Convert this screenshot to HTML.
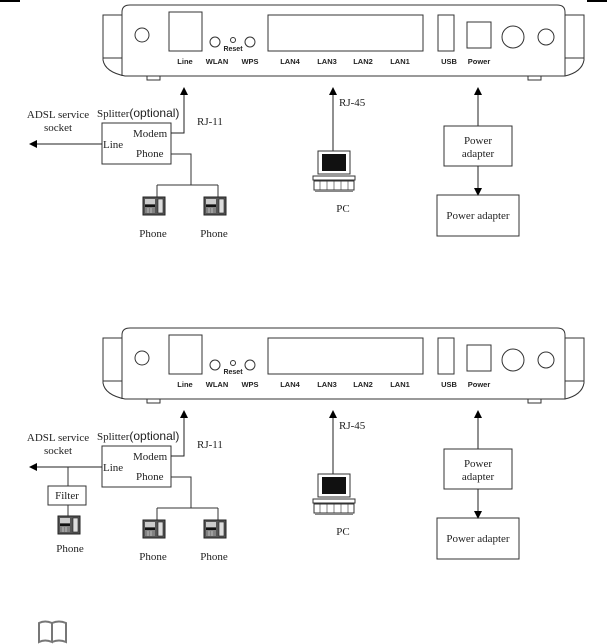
<!DOCTYPE html>
<html><head><meta charset="utf-8"><style>
html,body{margin:0;padding:0;background:#fff;}
svg{display:block;}
.s{font-family:"Liberation Serif",serif;font-size:11px;fill:#222;}
.b{font-family:"Liberation Sans",sans-serif;font-size:7.5px;font-weight:bold;fill:#222;}
.o{font-family:"Liberation Sans",sans-serif;font-size:12px;fill:#222;}
</style></head><body>
<svg width="607" height="644" viewBox="0 0 607 644" xmlns="http://www.w3.org/2000/svg">
<defs>
<marker id="ar" markerWidth="8" markerHeight="8" refX="7" refY="4" orient="auto" markerUnits="userSpaceOnUse"><path d="M0,0 L8,4 L0,8 z" fill="#000"/></marker>
<g id="ph">
<rect x="0" y="0" width="22" height="18" fill="#555" stroke="#222"/>
<rect x="15" y="2" width="5" height="14" fill="#ddd" stroke="#222" stroke-width="0.6"/>
<rect x="2" y="2" width="10" height="5" fill="#ccc"/>
<rect x="2" y="8" width="10" height="2" fill="#111"/>
<path d="M2,11h10M2,13h10M2,15h10M5,11v5M8,11v5" stroke="#ccc" stroke-width="0.8"/>
</g>
<g id="router">
<path d="M122,76 L122,12 Q122,5 130,5 L557,5 Q565,5 565,12 L565,76" fill="none" stroke="#333" stroke-width="1"/>
<path d="M103,15 L122,15 L122,58 L103,58 z" fill="none" stroke="#333"/>
<path d="M103,15 L103,60 Q105,72 125,76 L565,76 Q582,72 584,60 L584,15 L565,15" fill="none" stroke="#333"/>
<path d="M565,58 L584,58" stroke="#333"/>
<rect x="147" y="76" width="13" height="4" fill="none" stroke="#333"/>
<rect x="528" y="76" width="13" height="4" fill="none" stroke="#333"/>
<circle cx="142" cy="35" r="7" fill="none" stroke="#333"/>
<rect x="169" y="12" width="33" height="39" fill="none" stroke="#333"/>
<circle cx="215" cy="42" r="5" fill="none" stroke="#333"/>
<circle cx="233" cy="40" r="2.5" fill="none" stroke="#333"/>
<circle cx="250" cy="42" r="5" fill="none" stroke="#333"/>
<text class="b" x="233" y="51" text-anchor="middle" style="font-size:7px">Reset</text>
<rect x="268" y="15" width="155" height="36" fill="none" stroke="#333"/>
<rect x="438" y="15" width="16" height="36" fill="none" stroke="#333"/>
<rect x="467" y="22" width="24" height="26" fill="none" stroke="#333"/>
<circle cx="513" cy="37" r="11" fill="none" stroke="#333"/>
<circle cx="546" cy="37" r="8" fill="none" stroke="#333"/>
<text class="b" x="185" y="64" text-anchor="middle">Line</text>
<text class="b" x="217" y="64" text-anchor="middle">WLAN</text>
<text class="b" x="250" y="64" text-anchor="middle">WPS</text>
<text class="b" x="290" y="64" text-anchor="middle">LAN4</text>
<text class="b" x="327" y="64" text-anchor="middle">LAN3</text>
<text class="b" x="363" y="64" text-anchor="middle">LAN2</text>
<text class="b" x="400" y="64" text-anchor="middle">LAN1</text>
<text class="b" x="449" y="64" text-anchor="middle">USB</text>
<text class="b" x="479" y="64" text-anchor="middle">Power</text>
</g>
<g id="common">
<text class="s" x="58" y="118" text-anchor="middle">ADSL service</text>
<text class="s" x="58" y="131" text-anchor="middle">socket</text>
<text class="s" x="97" y="117">Splitter<tspan class="o" style="font-family:'Liberation Sans',sans-serif;font-size:12px">(optional)</tspan></text>
<rect x="102" y="123" width="69" height="41" fill="none" stroke="#333"/>
<text class="s" x="103" y="148">Line</text>
<text class="s" x="133" y="137">Modem</text>
<text class="s" x="136" y="157">Phone</text>
<path d="M102,144 L30,144" stroke="#222" marker-end="url(#ar)"/>
<path d="M171,133 L184,133 L184,88" fill="none" stroke="#222" marker-end="url(#ar)"/>
<text class="s" x="197" y="125">RJ-11</text>
<path d="M171,154 L191,154 L191,185 M157,185 L218,185 M157,185 L157,197 M218,185 L218,197" fill="none" stroke="#333"/>
<use href="#ph" x="143" y="197"/>
<use href="#ph" x="204" y="197"/>
<text class="s" x="153" y="237" text-anchor="middle">Phone</text>
<text class="s" x="214" y="237" text-anchor="middle">Phone</text>
<path d="M333,151 L333,88" stroke="#222" marker-end="url(#ar)"/>
<text class="s" x="339" y="106">RJ-45</text>
<rect x="318" y="151" width="32" height="23" fill="#fff" stroke="#333"/>
<rect x="322" y="154" width="24" height="17" fill="#111"/>
<rect x="313" y="176" width="42" height="4" fill="#fff" stroke="#333"/>
<rect x="314" y="181" width="40" height="9" fill="#fff" stroke="#333"/>
<path d="M320,181v9M327,181v9M334,181v9M341,181v9M348,181v9" stroke="#333" stroke-width="0.6"/>
<rect x="315" y="190" width="38" height="2" fill="#888"/>
<text class="s" x="343" y="212" text-anchor="middle">PC</text>
<path d="M478,126 L478,88" stroke="#222" marker-end="url(#ar)"/>
<rect x="444" y="126" width="68" height="40" fill="none" stroke="#333"/>
<text class="s" x="478" y="144" text-anchor="middle">Power</text>
<text class="s" x="478" y="157" text-anchor="middle">adapter</text>
<path d="M478,166 L478,195" stroke="#222" marker-end="url(#ar)"/>
<rect x="437" y="195" width="82" height="41" fill="none" stroke="#333"/>
<text class="s" x="478" y="219" text-anchor="middle">Power adapter</text>
</g>
</defs>
<rect x="0" y="0" width="20" height="2" fill="#000"/>
<rect x="587" y="0" width="20" height="2" fill="#000"/>
<use href="#router"/>
<use href="#common"/>
<g transform="translate(0,323)">
<use href="#router"/>
<use href="#common"/>
<path d="M68,144 L68,163" stroke="#333"/>
<rect x="48" y="163" width="38" height="19" fill="none" stroke="#333"/>
<text class="s" x="67" y="176" text-anchor="middle">Filter</text>
<path d="M68,182 L68,193" stroke="#333"/>
<use href="#ph" x="58" y="193"/>
<text class="s" x="70" y="229" text-anchor="middle">Phone</text>
</g>
<g transform="translate(37,620)" fill="none" stroke="#777" stroke-width="2">
<path d="M2,3 Q8,0 15,3 L15,22 Q8,19 2,22 z"/>
<path d="M15,3 Q22,0 29,3 L29,22 Q22,19 15,22"/>
</g>
</svg>
</body></html>
